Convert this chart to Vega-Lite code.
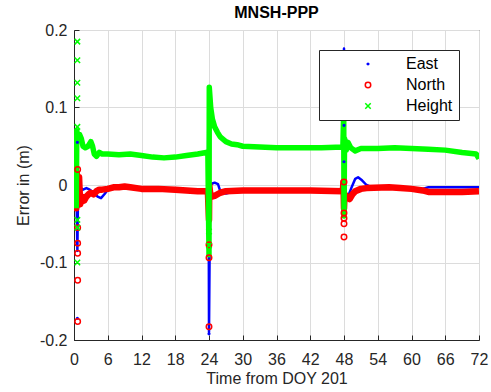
{
  "$schema": "https://vega.github.io/schema/vega-lite/v6.json",
  "autosize": "none",
  "padding": {"left": 74, "top": 30, "right": 12, "bottom": 52},
  "width": 405,
  "height": 310,
  "background": "white",
  "config": {
    "font": "Liberation Sans",
    "view": {"stroke": "#262626", "strokeWidth": 1},
    "axis": {
      "domainColor": "#262626",
      "tickColor": "#262626",
      "labelColor": "#262626",
      "titleColor": "#262626",
      "labelFont": "Liberation Sans",
      "titleFont": "Liberation Sans",
      "labelFontSize": 16,
      "titleFontSize": 16,
      "titleFontWeight": "normal",
      "gridColor": "#dcdcdc",
      "gridWidth": 1
    }
  },
  "title": {
    "text": "MNSH-PPP",
    "font": "Liberation Sans",
    "fontSize": 16,
    "fontWeight": "bold",
    "color": "#000000",
    "offset": 1
  },
  "datasets": {
    "lines": [
      {"t": 0.4, "v": 0.066, "s": "East"}, {"t": 0.45, "v": 0.03, "s": "East"}, {"t": 0.5, "v": -0.04, "s": "East"}, {"t": 0.6, "v": -0.085, "s": "East"}, {"t": 0.7, "v": -0.02, "s": "East"}, {"t": 0.9, "v": -0.01, "s": "East"}, {"t": 1.2, "v": -0.004, "s": "East"}, {"t": 1.6, "v": -0.006, "s": "East"}, {"t": 2.2, "v": -0.004, "s": "East"}, {"t": 2.8, "v": -0.006, "s": "East"}, {"t": 3.5, "v": -0.01, "s": "East"}, {"t": 4.2, "v": -0.015, "s": "East"}, {"t": 4.8, "v": -0.017, "s": "East"}, {"t": 5.4, "v": -0.012, "s": "East"}, {"t": 6, "v": -0.006, "s": "East"}, {"t": 8, "v": -0.004, "s": "East"}, {"t": 12, "v": -0.005, "s": "East"}, {"t": 18, "v": -0.006, "s": "East"}, {"t": 23.8, "v": -0.007, "s": "East"}, {"t": 23.9, "v": 0.113, "s": "East"}, {"t": 24.0, "v": -0.19, "s": "East"}, {"t": 24.2, "v": 0.0, "s": "East"}, {"t": 24.6, "v": 0.002, "s": "East"}, {"t": 25, "v": 0.003, "s": "East"}, {"t": 25.6, "v": 0.001, "s": "East"}, {"t": 26, "v": -0.008, "s": "East"}, {"t": 27, "v": -0.011, "s": "East"}, {"t": 28, "v": -0.009, "s": "East"}, {"t": 30, "v": -0.008, "s": "East"}, {"t": 36, "v": -0.007, "s": "East"}, {"t": 42, "v": -0.007, "s": "East"}, {"t": 47.9, "v": -0.006, "s": "East"}, {"t": 48.0, "v": 0.176, "s": "East"}, {"t": 48.05, "v": 0.02, "s": "East"}, {"t": 48.3, "v": -0.02, "s": "East"}, {"t": 48.7, "v": -0.015, "s": "East"}, {"t": 49.3, "v": -0.004, "s": "East"}, {"t": 50, "v": 0.008, "s": "East"}, {"t": 50.5, "v": 0.01, "s": "East"}, {"t": 51.2, "v": 0.006, "s": "East"}, {"t": 52, "v": 0.0, "s": "East"}, {"t": 53, "v": -0.003, "s": "East"}, {"t": 56, "v": -0.003, "s": "East"}, {"t": 60, "v": -0.004, "s": "East"}, {"t": 62, "v": -0.005, "s": "East"}, {"t": 63, "v": -0.003, "s": "East"}, {"t": 72, "v": -0.003, "s": "East"},

      {"t": 0.3, "v": 0.02, "s": "North"}, {"t": 0.4, "v": -0.03, "s": "North"}, {"t": 0.5, "v": 0.015, "s": "North"}, {"t": 0.7, "v": -0.02, "s": "North"}, {"t": 0.9, "v": 0.01, "s": "North"}, {"t": 1.1, "v": -0.025, "s": "North"}, {"t": 1.4, "v": -0.015, "s": "North"}, {"t": 1.8, "v": -0.02, "s": "North"}, {"t": 2.2, "v": -0.015, "s": "North"}, {"t": 2.6, "v": -0.012, "s": "North"}, {"t": 3.0, "v": -0.01, "s": "North"}, {"t": 3.5, "v": -0.012, "s": "North"}, {"t": 4.0, "v": -0.008, "s": "North"}, {"t": 4.5, "v": -0.006, "s": "North"}, {"t": 5.0, "v": -0.006, "s": "North"}, {"t": 6, "v": -0.005, "s": "North"}, {"t": 7, "v": -0.003, "s": "North"}, {"t": 8, "v": -0.003, "s": "North"}, {"t": 9, "v": -0.002, "s": "North"}, {"t": 10, "v": -0.003, "s": "North"}, {"t": 12, "v": -0.005, "s": "North"}, {"t": 15, "v": -0.005, "s": "North"}, {"t": 18, "v": -0.006, "s": "North"}, {"t": 20, "v": -0.007, "s": "North"}, {"t": 22, "v": -0.008, "s": "North"}, {"t": 23.8, "v": -0.008, "s": "North"}, {"t": 24.0, "v": -0.045, "s": "North"}, {"t": 24.05, "v": 0.0, "s": "North"}, {"t": 24.2, "v": -0.01, "s": "North"}, {"t": 24.5, "v": -0.015, "s": "North"}, {"t": 25, "v": -0.014, "s": "North"}, {"t": 26, "v": -0.01, "s": "North"}, {"t": 27, "v": -0.008, "s": "North"}, {"t": 30, "v": -0.007, "s": "North"}, {"t": 36, "v": -0.007, "s": "North"}, {"t": 42, "v": -0.007, "s": "North"}, {"t": 47.8, "v": -0.008, "s": "North"}, {"t": 47.9, "v": 0.004, "s": "North"}, {"t": 48.0, "v": -0.03, "s": "North"}, {"t": 48.1, "v": -0.012, "s": "North"}, {"t": 48.5, "v": -0.015, "s": "North"}, {"t": 49, "v": -0.018, "s": "North"}, {"t": 49.5, "v": -0.012, "s": "North"}, {"t": 50, "v": -0.008, "s": "North"}, {"t": 51, "v": -0.005, "s": "North"}, {"t": 52, "v": -0.004, "s": "North"}, {"t": 56, "v": -0.003, "s": "North"}, {"t": 58, "v": -0.004, "s": "North"}, {"t": 60, "v": -0.005, "s": "North"}, {"t": 62, "v": -0.007, "s": "North"}, {"t": 63, "v": -0.009, "s": "North"}, {"t": 66, "v": -0.009, "s": "North"}, {"t": 69, "v": -0.009, "s": "North"}, {"t": 72, "v": -0.008, "s": "North"},

      {"t": 0.4, "v": -0.03, "s": "Height"}, {"t": 0.5, "v": 0.07, "s": "Height"}, {"t": 0.7, "v": 0.06, "s": "Height"}, {"t": 1.0, "v": 0.065, "s": "Height"}, {"t": 1.3, "v": 0.06, "s": "Height"}, {"t": 1.6, "v": 0.05, "s": "Height"}, {"t": 2.0, "v": 0.048, "s": "Height"}, {"t": 2.5, "v": 0.05, "s": "Height"}, {"t": 3.0, "v": 0.056, "s": "Height"}, {"t": 3.3, "v": 0.05, "s": "Height"}, {"t": 3.6, "v": 0.04, "s": "Height"}, {"t": 4.0, "v": 0.037, "s": "Height"}, {"t": 4.5, "v": 0.042, "s": "Height"}, {"t": 5.0, "v": 0.04, "s": "Height"}, {"t": 6, "v": 0.04, "s": "Height"}, {"t": 8, "v": 0.039, "s": "Height"}, {"t": 10, "v": 0.04, "s": "Height"}, {"t": 12, "v": 0.038, "s": "Height"}, {"t": 14, "v": 0.036, "s": "Height"}, {"t": 16, "v": 0.035, "s": "Height"}, {"t": 18, "v": 0.036, "s": "Height"}, {"t": 20, "v": 0.038, "s": "Height"}, {"t": 22, "v": 0.04, "s": "Height"}, {"t": 23.5, "v": 0.042, "s": "Height"}, {"t": 23.8, "v": 0.04, "s": "Height"}, {"t": 24.0, "v": -0.09, "s": "Height"}, {"t": 24.05, "v": 0.126, "s": "Height"}, {"t": 24.3, "v": 0.1, "s": "Height"}, {"t": 24.6, "v": 0.085, "s": "Height"}, {"t": 25, "v": 0.075, "s": "Height"}, {"t": 25.5, "v": 0.068, "s": "Height"}, {"t": 26, "v": 0.062, "s": "Height"}, {"t": 27, "v": 0.056, "s": "Height"}, {"t": 28, "v": 0.053, "s": "Height"}, {"t": 29, "v": 0.052, "s": "Height"}, {"t": 30, "v": 0.05, "s": "Height"}, {"t": 33, "v": 0.049, "s": "Height"}, {"t": 36, "v": 0.048, "s": "Height"}, {"t": 40, "v": 0.048, "s": "Height"}, {"t": 44, "v": 0.048, "s": "Height"}, {"t": 47.8, "v": 0.049, "s": "Height"}, {"t": 47.95, "v": 0.095, "s": "Height"}, {"t": 48.0, "v": -0.04, "s": "Height"}, {"t": 48.1, "v": 0.06, "s": "Height"}, {"t": 48.4, "v": 0.045, "s": "Height"}, {"t": 48.7, "v": 0.055, "s": "Height"}, {"t": 49.2, "v": 0.048, "s": "Height"}, {"t": 50, "v": 0.044, "s": "Height"}, {"t": 51, "v": 0.047, "s": "Height"}, {"t": 54, "v": 0.047, "s": "Height"}, {"t": 57, "v": 0.048, "s": "Height"}, {"t": 60, "v": 0.047, "s": "Height"}, {"t": 63, "v": 0.046, "s": "Height"}, {"t": 66, "v": 0.045, "s": "Height"}, {"t": 69, "v": 0.042, "s": "Height"}, {"t": 71.5, "v": 0.04, "s": "Height"}, {"t": 72, "v": 0.034, "s": "Height"}
    ],
    "pts": [
      {"t": 0.6, "v": -0.172, "s": "East"}, {"t": 0.6, "v": 0.055, "s": "East"}, {"t": 24.0, "v": -0.192, "s": "East"}, {"t": 48.0, "v": 0.15, "s": "East"}, {"t": 48.0, "v": 0.12, "s": "East"}, {"t": 48.0, "v": 0.077, "s": "East"}, {"t": 48.0, "v": 0.03, "s": "East"},
      {"t": 0.65, "v": 0.02, "s": "North"}, {"t": 0.65, "v": -0.055, "s": "North"}, {"t": 0.65, "v": -0.075, "s": "North"}, {"t": 0.65, "v": -0.088, "s": "North"}, {"t": 0.65, "v": -0.123, "s": "North"}, {"t": 0.65, "v": -0.176, "s": "North"}, {"t": 24.0, "v": -0.077, "s": "North"}, {"t": 24.0, "v": -0.094, "s": "North"}, {"t": 24.0, "v": -0.183, "s": "North"}, {"t": 48.0, "v": 0.004, "s": "North"}, {"t": 48.0, "v": -0.036, "s": "North"}, {"t": 48.0, "v": -0.043, "s": "North"}, {"t": 48.0, "v": -0.05, "s": "North"}, {"t": 48.0, "v": -0.067, "s": "North"},
      {"t": 0.6, "v": 0.185, "s": "Height"}, {"t": 0.6, "v": 0.161, "s": "Height"}, {"t": 0.6, "v": 0.132, "s": "Height"}, {"t": 0.6, "v": 0.112, "s": "Height"}, {"t": 0.6, "v": 0.075, "s": "Height"}, {"t": 0.6, "v": -0.045, "s": "Height"}, {"t": 0.6, "v": -0.055, "s": "Height"}, {"t": 0.6, "v": -0.1, "s": "Height"}, {"t": 24.0, "v": -0.06, "s": "Height"}, {"t": 24.0, "v": -0.078, "s": "Height"}
    ]
  },
  "encoding": {
    "x": {
      "field": "t", "type": "quantitative",
      "scale": {"domain": [0, 72], "nice": false, "zero": false},
      "axis": {
        "values": [0, 6, 12, 18, 24, 30, 36, 42, 48, 54, 60, 66, 72],
        "title": "Time from DOY 201",
        "grid": true,
        "tickSize": -5,
        "labelPadding": 16,
        "labelFlush": false,
        "titleY": 43,
        "titleBaseline": "alphabetic"
      }
    },
    "y": {
      "field": "v", "type": "quantitative",
      "scale": {"domain": [-0.2, 0.2], "nice": false, "zero": false},
      "axis": {
        "values": [-0.2, -0.1, 0, 0.1, 0.2],
        "labelExpr": "datum.value + ''",
        "title": "Error in (m)",
        "grid": true,
        "tickSize": -5,
        "labelPadding": 12,
        "labelFlush": false,
        "titleX": -46,
        "titleY": 155,
        "titleAngle": -90,
        "titleAlign": "center",
        "titleBaseline": "alphabetic"
      }
    }
  },
  "layer": [
    {
      "data": {"name": "lines"},
      "transform": [{"filter": "datum.s == 'East'"}],
      "mark": {"type": "line", "stroke": "#0000ff", "strokeWidth": 2.5, "strokeJoin": "round", "clip": true},
      "encoding": {"order": {"field": "t", "type": "quantitative"}}
    },
    {
      "data": {"name": "lines"},
      "transform": [{"filter": "datum.s == 'North'"}],
      "mark": {"type": "line", "stroke": "#ff0000", "strokeWidth": 6.5, "strokeJoin": "round", "clip": true},
      "encoding": {"order": {"field": "t", "type": "quantitative"}}
    },
    {
      "data": {"name": "lines"},
      "transform": [{"filter": "datum.s == 'Height'"}],
      "mark": {"type": "line", "stroke": "#00ff00", "strokeWidth": 5.5, "strokeJoin": "round", "clip": true},
      "encoding": {"order": {"field": "t", "type": "quantitative"}}
    },
    {
      "data": {"name": "pts"},
      "mark": {"type": "point", "filled": false, "strokeWidth": 1.5, "size": 30, "opacity": 1, "clip": true},
      "encoding": {
        "color": {
          "field": "s", "type": "nominal",
          "scale": {"domain": ["East", "North", "Height"], "range": ["#0000ff", "#ff0000", "#00ff00"]},
          "legend": {
            "title": null,
            "orient": "top-right",
            "offset": 20,
            "strokeColor": "#262626",
            "fillColor": "white",
            "padding": 6,
            "rowPadding": 5,
            "labelFont": "Liberation Sans",
            "labelFontSize": 16,
            "labelColor": "#000000",
            "labelOffset": 30,
            "symbolOffset": 35,
            "symbolSize": 30,
            "symbolStrokeWidth": 1.5
          }
        },
        "shape": {
          "field": "s", "type": "nominal",
          "scale": {"domain": ["East", "North", "Height"], "range": ["M-0.3,0A0.3,0.3 0 1,0 0.3,0A0.3,0.3 0 1,0 -0.3,0", "circle", "M-1,-1L1,1M-1,1L1,-1"]}
        }
      }
    }
  ]
}
